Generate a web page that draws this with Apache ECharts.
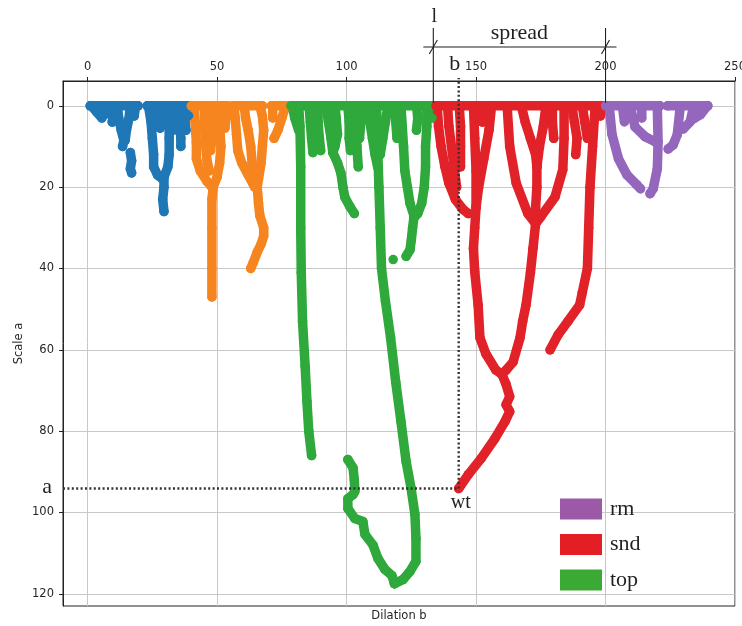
<!DOCTYPE html>
<html>
<head>
<meta charset="utf-8">
<script src="https://cdn.jsdelivr.net/npm/echarts@6/dist/echarts.min.js"></script>
<style>
  html, body { margin: 0; padding: 0; background: #ffffff; }
  #chart { width: 742px; height: 626px; }
</style>
</head>
<body>
<div id="chart"></div>
<script>
// Wavelet-transform maxima lines: each ridge is a list of [dilation b, scale a] points.

// Axis ticks
const xTicks = [0, 50, 100, 150, 200, 250];
const yTicks = [0, 20, 40, 60, 80, 100, 120];

// Reference point wt = (b, a), width l and spread of the "snd" group
const wtB = 143.3;
const wtA = 94.1;
const lPos = 133.5;
const spreadEnd = 200;

// Legend entries
const legendNames = ['rm', 'snd', 'top'];

// First group (blue)
const blueRidges = [
  [[1, 0], [19.5, 0]],
  [[23, 0], [39.5, 0]],
  [[1.5, 0], [3.5, 1.5], [5.5, 3]],
  [[6.5, 0], [7, 2]],
  [[9, 0], [10, 2], [9.5, 4]],
  [[11.5, 0], [12, 3], [13, 6], [14, 8.5], [13.5, 10]],
  [[16.5, 0], [16, 3], [15, 6], [14.5, 8.5]],
  [[18.5, 0], [18, 2.5]],
  [[16.5, 11.5], [17, 13.5], [16.5, 15.5], [17, 16.5]],
  [[23.5, 0], [24.5, 4], [25, 8], [25.5, 12], [25.5, 15], [27, 17], [29, 18]],
  [[26.5, 0], [26.5, 3]],
  [[28.5, 0], [28, 3], [28, 5.5]],
  [[30, 0], [30, 3.5]],
  [[31.5, 0], [31.5, 4], [31.5, 8], [31.5, 12], [31, 15], [29.5, 17.5]],
  [[29.5, 17.5], [29.5, 20], [29, 23], [29.5, 26]],
  [[33.5, 0], [33.5, 3], [33, 6]],
  [[35.5, 0], [35.5, 4], [36, 8], [36, 10]],
  [[37.5, 0], [37.5, 3], [38, 6]],
  [[39, 0], [39, 2.5]]
];

// Second group (orange)
const orangeRidges = [
  [[40, 0], [54, 0]],
  [[56, 0], [67.5, 0]],
  [[71, 0], [78, 0]],
  [[41, 0], [41.5, 4], [42, 9], [42, 13], [43.5, 16], [46, 18.5], [48, 20]],
  [[45, 0], [45, 4], [45.5, 9], [46, 13], [47, 16]],
  [[48, 0], [48, 4], [48, 8], [47.5, 11]],
  [[51, 0], [51, 5], [51.5, 10], [51, 14], [50, 17.5], [48.5, 20]],
  [[53.5, 0], [53.5, 3], [53, 5.5]],
  [[48.5, 20], [48, 23], [48, 30], [48, 40], [48, 47]],
  [[56.5, 0], [57, 3], [57.5, 7], [58, 11], [59.5, 14], [62, 17], [64.5, 20]],
  [[60.5, 0], [61, 3], [62, 6], [63, 10], [63.5, 14], [64.5, 18]],
  [[66.5, 0], [67.5, 2.5], [68, 6], [67.5, 10], [67, 14], [66, 18], [65.5, 20]],
  [[65.5, 20], [66, 24], [66.5, 27], [68, 30], [68, 32], [67, 34], [65.5, 36], [64, 38.5], [63, 40]],
  [[76.5, 0], [75, 3], [73.5, 6], [72, 8]],
  [[71.5, 0], [71.5, 3]]
];

// "top" group (green)
const topRidges = [
  [[78.5, 0], [133.5, 0]],
  [[79, 0], [80, 3], [81.5, 6]],
  [[81.5, 0], [82, 5], [82.3, 15], [82.3, 30], [82.5, 41], [83, 53], [84, 64], [84.7, 72.7], [85.4, 80], [86.5, 86]],
  [[85.5, 0], [86, 4], [86.5, 8], [87, 11.5]],
  [[89, 0], [89, 4], [89.5, 8], [90, 11]],
  [[92, 0], [93, 4], [94, 8], [94.7, 11.5], [96.5, 14], [97.8, 16.5], [98.6, 20], [99.3, 22.4], [101.3, 24.8], [103, 26.5]],
  [[95.5, 0], [96, 3], [96.5, 7], [95.5, 10], [94.7, 11.5]],
  [[100.5, 0], [101, 4], [101, 8], [101.5, 11]],
  [[103.5, 0], [103.5, 5], [104, 10], [104.5, 15]],
  [[106, 0], [105.5, 4], [105, 8]],
  [[108, 0], [109, 4], [110, 8], [111, 12], [112, 15]],
  [[111.5, 0], [112, 5], [112, 10], [112.5, 20], [113, 30], [113.5, 40], [115, 48], [117, 57], [119, 68], [121, 77.6], [123, 87.5], [124.9, 94], [126.4, 100.5], [126.8, 106.4], [126.8, 112], [124.5, 114.5], [121.8, 116.5], [118.5, 117.5]],
  [[116, 0], [115, 4], [114, 8], [113, 12]],
  [[100.5, 87], [102.5, 89], [103, 92], [103.2, 94.8], [102.5, 95.6], [100.5, 96.6], [100.5, 99], [103.2, 101.5], [106.3, 102.2], [107.1, 105.4], [110.2, 108], [112.1, 111.3], [114.8, 114], [117.5, 115.5], [118.5, 117.5]],
  [[118.5, 0], [119, 4], [119.5, 8]],
  [[121, 0], [121.5, 5], [122, 10], [122.5, 16], [123.5, 20], [124.5, 24], [126, 27]],
  [[131, 0], [131, 5], [130.5, 10], [130.5, 15], [130, 20], [129, 24], [127.5, 26.5], [126, 27.5]],
  [[126, 27.5], [125.5, 30], [125, 33], [124.5, 35.4], [123, 37]],
  [[118, 37.8]],
  [[127, 0], [127.5, 3], [127, 6]],
  [[133, 0], [133, 3]]
];

// "snd" group (red)
const sndRidges = [
  [[134.5, 0], [199.5, 0]],
  [[135, 0], [135.5, 5], [136.5, 10], [138, 15], [139.5, 19], [142, 23], [145, 25.5], [147, 26.5]],
  [[139, 0], [139.5, 5], [140.5, 10], [141.5, 15], [142.5, 20]],
  [[143.5, 0], [144, 5], [144, 10], [144, 15]],
  [[149, 0], [149.5, 8], [150, 16], [150, 25], [149.5, 30], [149, 35], [149.5, 40.8], [150.8, 49], [151.5, 57], [153.8, 61], [157.7, 65], [160, 66]],
  [[156, 0], [155, 6], [153, 13], [151, 20], [150, 25]],
  [[152.5, 0], [152.5, 4]],
  [[162, 0], [163, 10], [165.5, 19], [170, 26.5], [173, 29]],
  [[167.5, 0], [169, 4], [171, 8], [173, 12], [173.5, 15]],
  [[177, 0], [176, 5], [174.5, 10], [173.5, 15]],
  [[173.5, 15], [173.5, 20], [173, 25], [173, 29]],
  [[184, 0], [184, 8], [183.5, 15.7], [180.5, 22.4], [175, 27.3], [173, 29]],
  [[173, 29], [172, 35], [171, 41], [169.3, 49], [168, 53], [167, 57], [164.3, 63], [161.6, 65], [160, 66]],
  [[160, 66], [161.6, 68.5], [163, 71.5], [161.6, 73.5], [163, 75.2], [161.2, 77.6], [157.3, 81.8], [152, 86.7], [147, 90.7], [wtB, wtA]],
  [[196, 0], [195, 10], [194, 20], [193.5, 30], [193, 40], [191, 46], [190, 49], [185.5, 53], [181.7, 56.3], [178.6, 60]],
  [[187, 0], [188, 4], [189, 8], [188.5, 12]],
  [[191, 0], [192, 4], [193, 8]],
  [[199, 0], [198, 2.5]],
  [[179.5, 0], [179.5, 4], [180, 8]]
];

// "rm" group (purple)
const rmRidges = [
  [[200, 0], [221, 0]],
  [[224, 0], [239.5, 0]],
  [[201.5, 0.5], [202.5, 7], [205, 13], [208.3, 17], [212, 19.4], [213.5, 20.4]],
  [[220, 0.5], [220.3, 8.8], [220, 15.5], [218.4, 20.4], [217.2, 21.6]],
  [[209.5, 0], [211.4, 5.2], [215.3, 7.6], [219, 8.8]],
  [[206.5, 0], [207.3, 3.9]],
  [[214, 0], [214, 3]],
  [[228.8, 0.5], [227.7, 7.1], [226.1, 9.6], [224.2, 10.6]],
  [[233.9, 0.5], [232.7, 3.9], [230, 5.7]],
  [[239.3, 0], [236.6, 2.2], [233.9, 3.2]]
];

const X_MIN = -9.5, X_MAX = 250;
const Y_MIN = -6.1, Y_MAX = 123;

const COLORS = {
  blue: '#2077b6',
  orange: '#f7851f',
  top: '#2fa83c',
  snd: '#e12228',
  rm: '#9467bd'
};
const LEGEND_COLORS = { rm: '#9b59a8', snd: '#e31e24', top: '#3aaa35' };

const SERIF = '"Liberation Serif", "DejaVu Serif", serif';
const SANS = '"DejaVu Sans", sans-serif';
const INK = '#231f20';
const DOT = 9.5;

function ridgeSeries(ridges, name, color) {
  return ridges.map(r => ({
    type: 'line',
    name: name,
    data: r,
    xAxisIndex: 0,
    yAxisIndex: 0,
    symbol: 'circle',
    symbolSize: DOT,
    showSymbol: true,
    showAllSymbol: true,
    silent: true,
    animation: false,
    itemStyle: { color: color },
    lineStyle: { color: color, width: DOT, cap: 'round', join: 'round' }
  }));
}

const series = [].concat(
  ridgeSeries(blueRidges, 'g1', COLORS.blue),
  ridgeSeries(orangeRidges, 'g2', COLORS.orange),
  ridgeSeries(topRidges, 'top', COLORS.top),
  ridgeSeries(sndRidges, 'snd', COLORS.snd),
  ridgeSeries(rmRidges, 'rm', COLORS.rm)
);

const chart = echarts.init(document.getElementById('chart'), null, { renderer: 'canvas' });

const option = {
  backgroundColor: '#ffffff',
  animation: false,
  grid: {
    left: 63, top: 81, right: 7, bottom: 20,
    outerBoundsMode: 'none',
    containLabel: false,
    show: true, borderColor: '#222', borderWidth: 1, backgroundColor: 'transparent'
  },
  legend: {
    data: legendNames.map(n => ({ name: n, itemStyle: { color: LEGEND_COLORS[n] } })),
    icon: 'rect',
    orient: 'vertical',
    left: 560,
    top: 498,
    padding: 0,
    itemWidth: 42,
    itemHeight: 21,
    itemGap: 13.5,
    selectedMode: false,
    textStyle: { fontFamily: SERIF, fontSize: 22, color: INK, padding: [0, 0, 0, 3] }
  },
  xAxis: [
    {
      type: 'value',
      position: 'top',
      min: X_MIN, max: X_MAX,
      axisLine: { show: true, onZero: false, lineStyle: { color: '#222', width: 1 } },
      axisTick: { show: true, inside: false, length: 4, customValues: xTicks, lineStyle: { color: '#222' } },
      axisLabel: { customValues: xTicks, margin: 8, fontFamily: SANS, fontSize: 11.5, color: '#262626' },
      splitLine: { show: true, lineStyle: { color: '#c8c8c8', width: 1 } }
    },
    {
      type: 'value',
      position: 'bottom',
      min: X_MIN, max: X_MAX,
      axisLine: { show: false, onZero: false },
      axisTick: { show: false },
      axisLabel: { show: false },
      splitLine: { show: false },
      name: 'Dilation b',
      nameLocation: 'middle',
      nameGap: 4,
      nameTextStyle: { fontFamily: SANS, fontSize: 11.5, color: '#262626' }
    }
  ],
  yAxis: {
    type: 'value',
    inverse: true,
    min: Y_MIN, max: Y_MAX,
    axisLine: { show: true, onZero: false, lineStyle: { color: '#222', width: 1 } },
    axisTick: { show: true, inside: false, length: 4, customValues: yTicks, lineStyle: { color: '#222' } },
    axisLabel: { customValues: yTicks, margin: 9, fontFamily: SANS, fontSize: 11.5, color: '#262626' },
    splitLine: { show: true, lineStyle: { color: '#c8c8c8', width: 1 } },
    name: 'Scale a',
    nameLocation: 'middle',
    nameGap: 38,
    nameMoveOverlap: false,
    nameTextStyle: { fontFamily: SANS, fontSize: 11.5, color: '#262626' }
  },
  series: series
};

chart.setOption(option);

// Annotations: wt reference point, its b and a guides, and the l / spread bracket
const toPx = (b, a) => chart.convertToPixel({ seriesIndex: 0 }, [b, a]);
const wtPx = toPx(wtB, wtA);
const leftPx = toPx(X_MIN, wtA)[0];
const lPx = toPx(lPos, 0)[0];
const sPx = toPx(spreadEnd, 0)[0];
const zeroY = toPx(0, 0)[1];
const gridTop = toPx(0, Y_MIN)[1];

const dotted = { stroke: '#333', lineWidth: 2.4, lineDash: [2, 2.4] };
const solid = { stroke: INK, lineWidth: 1.1 };
const braY = 47;

function txt(text, x, y, size, align) {
  return {
    type: 'text', z: 100, silent: true,
    style: { text: text, x: x, y: y, fontFamily: SERIF, fontSize: size, fill: INK, align: align || 'center', verticalAlign: 'middle' }
  };
}
function seg(x1, y1, x2, y2, style) {
  return { type: 'line', z: 100, silent: true, shape: { x1: x1, y1: y1, x2: x2, y2: y2 }, style: style };
}

chart.setOption({
  graphic: [
    seg(leftPx, wtPx[1], wtPx[0], wtPx[1], dotted),
    seg(wtPx[0], wtPx[1], wtPx[0], gridTop - 3, dotted),
    txt('a', leftPx - 11, wtPx[1] - 1, 22, 'right'),
    txt('b', wtPx[0] - 4, gridTop - 17, 22),
    txt('wt', wtPx[0] + 2, wtPx[1] + 14, 20),
    seg(lPx, 28, lPx, zeroY - 3, solid),
    seg(sPx, 28, sPx, zeroY - 3, solid),
    seg(lPx - 10, braY, sPx + 11, braY, solid),
    seg(lPx - 4, braY + 7, lPx + 4, braY - 7, solid),
    seg(sPx - 4, braY + 7, sPx + 4, braY - 7, solid),
    txt('l', lPx + 1, 17, 20),
    txt('spread', (lPx + sPx) / 2, 33, 22)
  ]
});
</script>
</body>
</html>
